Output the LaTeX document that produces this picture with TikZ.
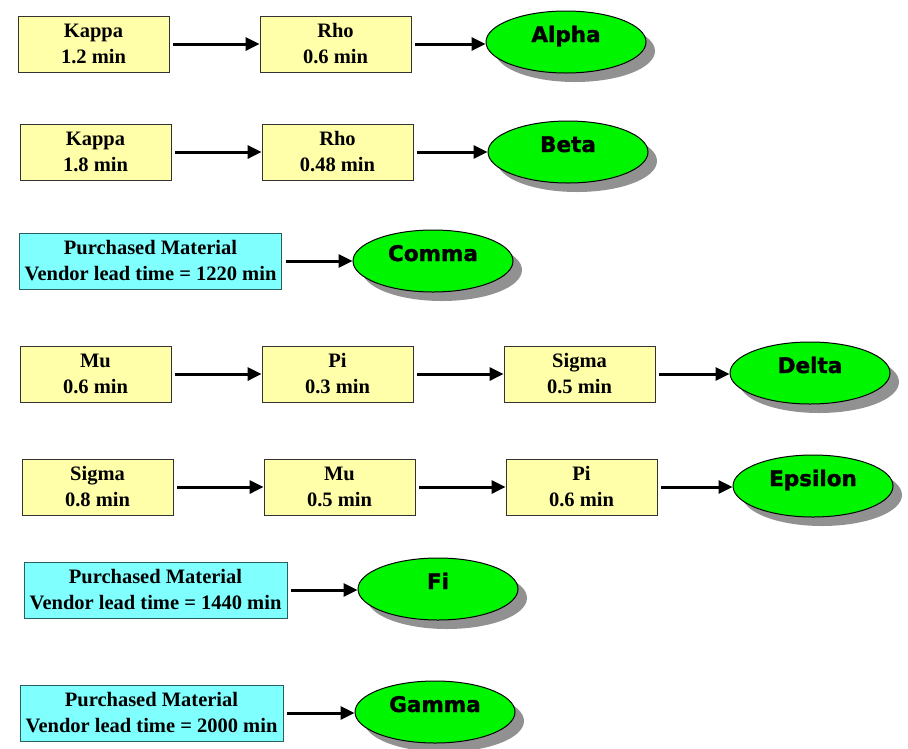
\documentclass[tikz,border=0pt]{standalone}
\usepackage{fontspec}
\setmainfont{Liberation Serif}
\newfontfamily\ovalfont[BoldFeatures={FakeBold=1.5}]{DejaVu Sans}
\usetikzlibrary{shapes.geometric,shadows,arrows.meta}

\definecolor{boxyellow}{RGB}{255,255,170}
\definecolor{boxcyan}{RGB}{128,255,255}
\definecolor{cyanedge}{RGB}{40,95,95}
\definecolor{partgreen}{RGB}{0,245,0}
\definecolor{shadowgray}{RGB}{145,145,145}

\tikzset{
  proc/.style={draw=black!80, line width=0.8pt, fill=boxyellow, minimum width=151pt, minimum height=56pt,
    inner sep=0pt, align=center, font=\fontsize{20.5}{26}\selectfont\bfseries},
  buy/.style={proc, draw=cyanedge, fill=boxcyan, minimum width=262pt},
  part/.style={ellipse, draw=black, line width=1pt, fill=partgreen,
    minimum width=160pt, minimum height=62pt, inner sep=0pt,
    text height=16pt, text depth=16pt,
    font=\ovalfont\fontsize{21.5}{24}\selectfont\bfseries,
    drop shadow={shadow xshift=9pt, shadow yshift=-9pt, fill=shadowgray, opacity=1}},
  flow/.style={line width=3pt, -{Triangle[length=14pt,width=13pt]}, shorten <=4pt}
}

\begin{document}
\begin{tikzpicture}[x=1pt,y=-1pt]
\useasboundingbox (0,0) rectangle (908,748);

% alpha
\node[proc] (kappaA) at (93.5,44) {Kappa\\1.2 min};
\node[proc] (rhoA) at (335.5,44) {Rho\\0.6 min};
\node[part] (alpha) at (566,42) {Alpha};

% beta
\node[proc] (kappaB) at (95.5,152) {Kappa\\1.8 min};
\node[proc] (rhoB) at (337.5,152) {Rho\\0.48 min};
\node[part] (beta) at (568,152) {Beta};

% comma
\node[buy] (buyC) at (150.5,261) {Purchased Material\\Vendor lead time = 1220 min};
\node[part] (comma) at (433,261) {Comma};

% delta
\node[proc] (muD) at (95.5,374) {Mu\\0.6 min};
\node[proc] (piD) at (337.5,374) {Pi\\0.3 min};
\node[proc] (sigmaD) at (579.5,374) {Sigma\\0.5 min};
\node[part] (delta) at (810,373) {Delta};

% epsilon
\node[proc] (sigmaE) at (97.5,487) {Sigma\\0.8 min};
\node[proc] (muE) at (339.5,487) {Mu\\0.5 min};
\node[proc] (piE) at (581.5,487) {Pi\\0.6 min};
\node[part] (epsilon) at (813,486) {Epsilon};

% fi
\node[buy,minimum width=263pt] (buyF) at (155.5,590) {Purchased Material\\Vendor lead time = 1440 min};
\node[part] (fi) at (438,589) {Fi};

% gamma
\node[buy,minimum width=263pt] (buyG) at (151.5,713) {Purchased Material\\Vendor lead time = 2000 min};
\node[part] (gamma) at (435,712) {Gamma};

\draw[flow] (kappaA) -- (rhoA);
\draw[flow] (rhoA.east) -- (rhoA.east -| alpha.west);
\draw[flow] (kappaB) -- (rhoB);
\draw[flow] (rhoB.east) -- (rhoB.east -| beta.west);
\draw[flow] (buyC.east) -- (buyC.east -| comma.west);
\draw[flow] (muD) -- (piD);
\draw[flow] (piD) -- (sigmaD);
\draw[flow] (sigmaD.east) -- (sigmaD.east -| delta.west);
\draw[flow] (sigmaE) -- (muE);
\draw[flow] (muE) -- (piE);
\draw[flow] (piE.east) -- (piE.east -| epsilon.west);
\draw[flow] (buyF.east) -- (buyF.east -| fi.west);
\draw[flow] (buyG.east) -- (buyG.east -| gamma.west);
\end{tikzpicture}
\end{document}
